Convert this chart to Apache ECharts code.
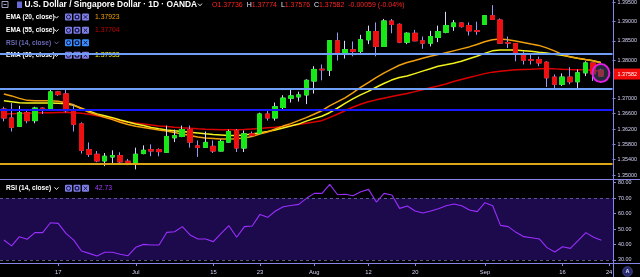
<!DOCTYPE html>
<html><head><meta charset="utf-8">
<script src="https://cdn.jsdelivr.net/npm/echarts@6/dist/echarts.min.js"></script>
<style>html,body{margin:0;padding:0;background:#000;}#c{width:640px;height:277px;}</style>
</head><body><div id="c"></div>
<script>
const dates = ['2019-06-06','2019-06-07','2019-06-10','2019-06-11','2019-06-12','2019-06-13','2019-06-14','2019-06-17','2019-06-18','2019-06-19','2019-06-20','2019-06-21','2019-06-24','2019-06-25','2019-06-26','2019-06-27','2019-06-28','2019-07-01','2019-07-02','2019-07-03','2019-07-04','2019-07-05','2019-07-08','2019-07-09','2019-07-10','2019-07-11','2019-07-12','2019-07-15','2019-07-16','2019-07-17','2019-07-18','2019-07-19','2019-07-22','2019-07-23','2019-07-24','2019-07-25','2019-07-26','2019-07-29','2019-07-30','2019-07-31','2019-08-01','2019-08-02','2019-08-05','2019-08-06','2019-08-07','2019-08-08','2019-08-09','2019-08-12','2019-08-13','2019-08-14','2019-08-15','2019-08-16','2019-08-19','2019-08-20','2019-08-21','2019-08-22','2019-08-23','2019-08-26','2019-08-27','2019-08-28','2019-08-29','2019-08-30','2019-09-02','2019-09-03','2019-09-04','2019-09-05','2019-09-06','2019-09-09','2019-09-10','2019-09-11','2019-09-12','2019-09-13','2019-09-16','2019-09-17','2019-09-18','2019-09-19','2019-09-20','2019-09-23','2019-09-24'];

// [open, close, low, high]
const candles = [
[1.36721,1.36489,1.36400,1.36780],[1.36489,1.36246,1.36135,1.36876],[1.36272,1.36626,1.36252,1.36806],[1.36626,1.36419,1.36350,1.36721],
[1.36419,1.36747,1.36350,1.36781],[1.36747,1.36703,1.36592,1.36762],[1.36703,1.37168,1.36690,1.37237],[1.37168,1.37098,1.37064,1.37194],
[1.37116,1.36677,1.36634,1.37271],[1.36677,1.36324,1.36135,1.36850],[1.36334,1.35645,1.35560,1.36375],[1.35663,1.35542,1.35472,1.35851],
[1.35542,1.35369,1.35336,1.35627],[1.35369,1.35490,1.35232,1.35575],[1.35472,1.35508,1.35284,1.35645],[1.35508,1.35343,1.35284,1.35593],
[1.35361,1.35318,1.35258,1.35421],[1.35318,1.35542,1.35147,1.35715],[1.35560,1.35645,1.35542,1.35774],[1.35663,1.35627,1.35490,1.35800],
[1.35663,1.35612,1.35490,1.35697],[1.35593,1.36006,1.35575,1.36290],[1.35973,1.36025,1.35859,1.36187],[1.36006,1.36187,1.35988,1.36290],
[1.36187,1.35859,1.35715,1.36290],[1.35761,1.35722,1.35472,1.35903],[1.35722,1.35851,1.35710,1.36135],[1.35748,1.35627,1.35575,1.35903],
[1.35627,1.35877,1.35619,1.35929],[1.35859,1.36135,1.35839,1.36187],[1.36161,1.35705,1.35601,1.36200],[1.35705,1.36076,1.35601,1.36161],
[1.36076,1.36032,1.35994,1.36135],[1.36092,1.36592,1.36071,1.36626],[1.36592,1.36489,1.36419,1.36695],[1.36489,1.36781,1.36419,1.36892],
[1.36762,1.37005,1.36721,1.37082],[1.37005,1.37064,1.36892,1.37237],[1.37039,1.37090,1.36917,1.37175],[1.37090,1.37470,1.36850,1.37496],
[1.37452,1.37754,1.37124,1.37839],[1.37761,1.37743,1.37470,1.37883],[1.37736,1.38502,1.37581,1.38517],[1.38502,1.38182,1.37986,1.38716],
[1.38174,1.38270,1.38038,1.38502],[1.38270,1.38226,1.38097,1.38484],[1.38226,1.38528,1.38141,1.38657],[1.38528,1.38742,1.38414,1.38897],
[1.38742,1.38355,1.38097,1.38982],[1.38355,1.39018,1.38342,1.39070],[1.39018,1.38930,1.38698,1.39070],[1.38930,1.38466,1.38440,1.38956],
[1.38466,1.38698,1.38414,1.38724],[1.38698,1.38502,1.38489,1.38786],[1.38502,1.38440,1.38295,1.38613],[1.38440,1.38613,1.38355,1.38760],
[1.38587,1.38742,1.38466,1.38897],[1.38724,1.38897,1.38698,1.39258],[1.38871,1.38966,1.38760,1.39044],[1.38966,1.38871,1.38845,1.38974],
[1.38897,1.38760,1.38639,1.38982],[1.38768,1.38750,1.38657,1.39000],[1.38930,1.39155,1.38915,1.39173],[1.39155,1.39059,1.39044,1.39431],
[1.39044,1.38440,1.38424,1.39085],[1.38458,1.38440,1.38311,1.38613],[1.38432,1.38156,1.37968,1.38440],[1.38166,1.37994,1.37883,1.38226],
[1.38012,1.37994,1.37883,1.38166],[1.38012,1.37924,1.37839,1.38089],[1.37942,1.37537,1.37297,1.37968],[1.37555,1.37367,1.37237,1.37624],
[1.37367,1.37555,1.37323,1.37650],[1.37555,1.37434,1.37367,1.37813],[1.37434,1.37666,1.37263,1.37754],[1.37666,1.37924,1.37581,1.37968],
[1.37924,1.37641,1.37452,1.37924],[1.37736,1.37582,1.37576,1.37774]
];

const ema20 = [1.37116,1.37064,1.37000,1.36948,1.36935,1.36935,1.36935,1.36922,1.36884,1.36832,1.36729,1.36639,1.36574,1.36504,1.36445,1.36375,1.36316,1.36272,1.36238,1.36205,1.36174,1.36148,1.36110,1.36071,1.36032,1.35994,1.35968,1.35955,1.35942,1.35942,1.35947,1.35968,1.36006,1.36071,1.36122,1.36200,1.36277,1.36342,1.36419,1.36497,1.36587,1.36677,1.36806,1.36910,1.37013,1.37142,1.37284,1.37413,1.37542,1.37658,1.37761,1.37864,1.37934,1.37986,1.38045,1.38097,1.38141,1.38187,1.38239,1.38290,1.38342,1.38406,1.38476,1.38528,1.38548,1.38528,1.38497,1.38458,1.38419,1.38381,1.38316,1.38239,1.38148,1.38084,1.38045,1.38011,1.37981,1.37923];
const ema30 = [1.36935,1.36910,1.36884,1.36876,1.36876,1.36876,1.36876,1.36871,1.36858,1.36819,1.36742,1.36664,1.36592,1.36548,1.36497,1.36437,1.36381,1.36329,1.36290,1.36238,1.36205,1.36174,1.36153,1.36135,1.36117,1.36097,1.36076,1.36058,1.36045,1.36032,1.36032,1.36045,1.36071,1.36102,1.36135,1.36174,1.36226,1.36277,1.36329,1.36406,1.36471,1.36535,1.36626,1.36742,1.36871,1.36987,1.37090,1.37181,1.37289,1.37387,1.37477,1.37542,1.37581,1.37645,1.37710,1.37774,1.37839,1.37877,1.37916,1.37968,1.38032,1.38097,1.38174,1.38239,1.38259,1.38259,1.38259,1.38244,1.38226,1.38200,1.38182,1.38148,1.38123,1.38084,1.38045,1.38011,1.37981,1.37933];
const ema55 = [1.36592,1.36600,1.36608,1.36613,1.36618,1.36626,1.36626,1.36634,1.36634,1.36626,1.36613,1.36587,1.36548,1.36515,1.36471,1.36419,1.36386,1.36355,1.36329,1.36303,1.36282,1.36265,1.36246,1.36231,1.36221,1.36205,1.36195,1.36187,1.36179,1.36179,1.36179,1.36187,1.36200,1.36213,1.36231,1.36246,1.36265,1.36290,1.36316,1.36350,1.36381,1.36419,1.36497,1.36587,1.36677,1.36768,1.36845,1.36910,1.36961,1.37005,1.37046,1.37090,1.37129,1.37176,1.37227,1.37279,1.37323,1.37374,1.37439,1.37490,1.37542,1.37593,1.37645,1.37684,1.37710,1.37728,1.37743,1.37754,1.37761,1.37769,1.37769,1.37769,1.37761,1.37754,1.37748,1.37748,1.37736,1.37704];
const rsi = [42.9,39.1,45.1,43.4,47.7,47.7,54.1,53.7,47.2,42.9,35.8,34.3,32.6,35.0,35.0,33.7,32.8,38.2,40.1,39.7,39.7,47.9,48.3,51.6,46.2,43.6,43.6,41.9,47.2,52.2,44.7,51.6,52.0,59.5,57.6,61.7,64.5,65.3,66.0,69.9,73.1,73.1,78.9,72.2,72.5,71.6,74.2,75.7,67.5,73.1,72.0,63.4,64.9,61.7,60.4,61.7,63.2,65.1,66.2,65.1,62.3,61.3,67.1,65.1,52.4,51.6,47.9,45.1,44.4,43.6,38.0,35.2,38.6,37.5,42.5,47.7,44.7,42.73];

const levelValues = [1.38161, 1.37253, 1.36695, 1.35292];
const priceTicks = [1.350, 1.354, 1.358, 1.362, 1.366, 1.370, 1.380, 1.385, 1.390, 1.395];
const rsiTicks = [30, 40, 50, 60, 70, 80];
const tickDates = ['2019-06-17','2019-07-01','2019-07-15','2019-07-23','2019-08-01','2019-08-12','2019-08-20','2019-09-02','2019-09-16','2019-09-24'];
const tickTexts = ['17','Jul','15','23','Aug','12','20','Sep','16','24'];

const FONT = '"Liberation Sans", Arial, sans-serif';
const axisColor = '#8585ec';
const labelColor = '#d4d4f6';
const upColor = '#18e818', downColor = '#ee1010';
const levelStyles = [
  {color:'#6f9ff6', width:2}, {color:'#6f9ff6', width:2}, {color:'#1a1aff', width:2}, {color:'#dba716', width:2}
];

const tickMap = {};
tickDates.forEach((d, i) => tickMap[d] = tickTexts[i]);
const tickIdx = new Set(tickDates.map(d => dates.indexOf(d)));
const bodies = candles.map(d => [d[0], d[1], Math.min(d[0], d[1]), Math.max(d[0], d[1])]);
const last = candles.length - 1;
const lc = candles[last], prevClose = candles[last - 1][1];
const chg = lc[1] - prevClose;

function chevron(x, y, c) {
  return {type:'polyline', shape:{points:[[x-2,y-1],[x,y+1.2],[x+2,y-1]]}, style:{stroke:c, lineWidth:0.9, fill:null}};
}
function icons(x0, y, fill, glyph) {
  const out = [];
  for (let j = 0; j < 3; j++) {
    const x = x0 + j * 8.5;
    out.push({type:'rect', shape:{x:x, y:y-3.5, width:7, height:7, r:1}, style:{fill:fill}});
    const cx = x + 3.5;
    if (j === 0) out.push({type:'circle', shape:{cx:cx, cy:y, r:2}, style:{stroke:glyph, lineWidth:1, fill:null}});
    if (j === 1) out.push({type:'circle', shape:{cx:cx, cy:y, r:1.9}, style:{stroke:glyph, lineWidth:1.2, fill:null}});
    if (j === 2) {
      out.push({type:'line', shape:{x1:cx-1.8, y1:y-1.8, x2:cx+1.8, y2:y+1.8}, style:{stroke:glyph, lineWidth:1}});
      out.push({type:'line', shape:{x1:cx-1.8, y1:y+1.8, x2:cx+1.8, y2:y-1.8}, style:{stroke:glyph, lineWidth:1}});
    }
  }
  return out;
}
function legendRow(y, name, nameColor, value, valueColor, iconFill) {
  const els = [
    {type:'text', x:6, y:y, style:{text:name, fill:nameColor, font:'bold 6.6px ' + FONT, verticalAlign:'middle'}},
    chevron(56.5, y, nameColor)
  ].concat(icons(65, y, iconFill, '#14144a'));
  if (value) els.push({type:'text', x:95, y:y, style:{text:value, fill:valueColor, font:'6.8px ' + FONT, verticalAlign:'middle'}});
  return els;
}

const graphics = [
  {type:'line', shape:{x1:0, y1:179.5, x2:640, y2:179.5}, style:{stroke:axisColor, lineWidth:1}, z:100},
  {type:'line', shape:{x1:0, y1:263.5, x2:640, y2:263.5}, style:{stroke:axisColor, lineWidth:1}, z:100},
  {type:'line', shape:{x1:613.5, y1:0, x2:613.5, y2:277}, style:{stroke:axisColor, lineWidth:1}, z:100},
  {type:'rect', shape:{x:2, y:1.5, width:6, height:6}, style:{stroke:'#c8c8f0', lineWidth:0.8, fill:null}, z:100},
  {type:'line', shape:{x1:3.5, y1:4.5, x2:6.5, y2:4.5}, style:{stroke:'#c8c8f0', lineWidth:0.8}, z:100},
  {type:'rect', shape:{x:17, y:1.5, width:5, height:6.5}, style:{fill:'#6a6ad6'}, z:100},
  {type:'text', x:24.5, y:4.6, z:100, style:{text:'U.S. Dollar / Singapore Dollar · 1D · OANDA', fill:'#ffffff', font:'bold 8.4px ' + FONT, verticalAlign:'middle'}},
  Object.assign(chevron(200, 4.6, '#ffffff'), {z:100}),
  {type:'text', x:212, y:4.6, z:100, style:{
    text:'{r|O}{r|' + lc[0].toFixed(5) + '}  {w|H}{r|' + lc[3].toFixed(5) + '}  {w|L}{r|' + lc[2].toFixed(5) + '}  {w|C}{r|' + lc[1].toFixed(5) + '}  {r|' + chg.toFixed(5) + ' (' + (chg / prevClose * 100).toFixed(2) + '%)}',
    verticalAlign:'middle', font:'7px ' + FONT,
    rich:{ r:{fill:'#ff2222', font:'7px ' + FONT}, w:{fill:'#e6e6ff', font:'7px ' + FONT} }
  }},
  {type:'group', z:100, children: [].concat(
    legendRow(17, 'EMA (20, close)', '#ffffff', ema20[ema20.length-1].toFixed(5), '#f2a000', '#7f7fe6'),
    legendRow(30.3, 'EMA (55, close)', '#ffffff', ema55[ema55.length-1].toFixed(5), '#c80000', '#7f7fe6'),
    legendRow(42.7, 'RSI (14, close)', '#6a6ab8', null, null, '#3890ff'),
    legendRow(55.3, 'EMA (30, close)', '#ffffff', ema30[ema30.length-1].toFixed(5), '#f4f41a', '#7f7fe6'),
    legendRow(188.3, 'RSI (14, close)', '#ffffff', rsi[rsi.length-1].toFixed(2), '#a23cff', '#7f7fe6')
  )},
  {type:'circle', shape:{cx:627.5, cy:271.5, r:4.8}, style:{fill:'#262a6a', stroke:'#4a4ea0', lineWidth:0.8}, z:100},
  {type:'text', x:627.5, y:271.8, z:101, style:{text:'A', fill:'#e0e0ff', font:'bold 5.5px ' + FONT, align:'center', verticalAlign:'middle'}}
];

const chart = echarts.init(document.getElementById('c'), null, {renderer:'canvas'});
const option = {
  backgroundColor: '#000000',
  animation: false,
  grid: [
    {left: -5.83, width: 618.83, top: 0, height: 179},
    {left: -5.83, width: 618.83, top: 179, height: 84}
  ],
  xAxis: [
    {type:'category', data:dates, gridIndex:0, boundaryGap:true,
     axisLine:{show:false}, axisTick:{show:false}, axisLabel:{show:false}, splitLine:{show:false}},
    {type:'category', data:dates, gridIndex:1, boundaryGap:true,
     axisLine:{show:false},
     axisTick:{show:true, alignWithLabel:true, length:3, interval:(i) => tickIdx.has(i), lineStyle:{color:axisColor}},
     axisLabel:{interval:(i) => tickIdx.has(i), formatter:(v) => tickMap[v] || '', color:labelColor, fontSize:5.8, fontFamily:FONT, margin:6.5},
     splitLine:{show:false}}
  ],
  yAxis: [
    {type:'value', gridIndex:0, position:'right', min:1.34897, max:1.39516,
     axisLine:{show:false},
     axisTick:{show:true, length:3, customValues:priceTicks, lineStyle:{color:axisColor}},
     axisLabel:{customValues:priceTicks, formatter:(v) => v.toFixed(5), color:labelColor, fontSize:5.4, fontFamily:FONT, margin:5},
     splitLine:{show:false}},
    {type:'value', gridIndex:1, position:'right', min:28.06, max:82.4,
     axisLine:{show:false},
     axisTick:{show:true, length:3, customValues:rsiTicks, lineStyle:{color:axisColor}},
     axisLabel:{customValues:rsiTicks, formatter:(v) => v.toFixed(2), color:labelColor, fontSize:5.4, fontFamily:FONT, margin:5},
     splitLine:{show:false}}
  ],
  series: [
    {type:'line', name:'EMA55', data:ema55, xAxisIndex:0, yAxisIndex:0, showSymbol:false, symbol:'none',
     lineStyle:{color:'#dd0000', width:1.5}, z:1},
    {type:'line', name:'EMA30', data:ema30, xAxisIndex:0, yAxisIndex:0, showSymbol:false, symbol:'none',
     lineStyle:{color:'#f2f21c', width:1.5}, z:1},
    {type:'line', name:'EMA20', data:ema20, xAxisIndex:0, yAxisIndex:0, showSymbol:false, symbol:'none',
     lineStyle:{color:'#f2a00c', width:1.5}, z:1},
    {type:'candlestick', name:'wicks', data:candles, xAxisIndex:0, yAxisIndex:0, barWidth:5, z:3,
     itemStyle:{color:upColor, color0:downColor, borderColor:'#d8d8ff', borderColor0:'#9a9af2', borderWidth:1}},
    {type:'candlestick', name:'bodies', data:bodies, xAxisIndex:0, yAxisIndex:0, barWidth:5, z:4,
     itemStyle:{color:upColor, color0:downColor, borderColor:upColor, borderColor0:downColor, borderWidth:1},
     markLine:{silent:true, symbol:'none', animation:false, precision:5,
       data: levelValues.map((v, i) => ({yAxis:v, lineStyle:{color:levelStyles[i].color, width:levelStyles[i].width, type:'solid'}, label:{show:false}}))
         .concat([{yAxis:lc[1], lineStyle:{color:'rgba(0,0,0,0)', width:0}, label:{show:true, position:'end', distance:1, offset:[0,-2],
           formatter:lc[1].toFixed(5), color:'#ffffff', backgroundColor:'#f00a0a', fontSize:5.4, fontFamily:FONT, padding:[3,4,3,4]}}])
     },
     markPoint:{silent:true, animation:false, symbol:'circle', symbolSize:[17,18], label:{show:false},
       itemStyle:{color:'rgba(72,72,104,0.55)', borderColor:'#e21ee2', borderWidth:2},
       data:[{coord:[dates[last], (lc[0] + lc[1]) / 2]}]}
    },
    {type:'line', name:'RSI', data:rsi, xAxisIndex:1, yAxisIndex:1, showSymbol:false, symbol:'none',
     lineStyle:{color:'#9a2eff', width:1.1}, z:3,
     markArea:{silent:true, itemStyle:{color:'#1d0a4c'}, data:[[{yAxis:30},{yAxis:70}]]},
     markLine:{silent:true, symbol:'none', label:{show:false},
       lineStyle:{color:'#5a5a8c', type:[3,3], width:1}, data:[{yAxis:70},{yAxis:30}]}}
  ],
  graphic: graphics
};
chart.setOption(option);
</script>
</body></html>
